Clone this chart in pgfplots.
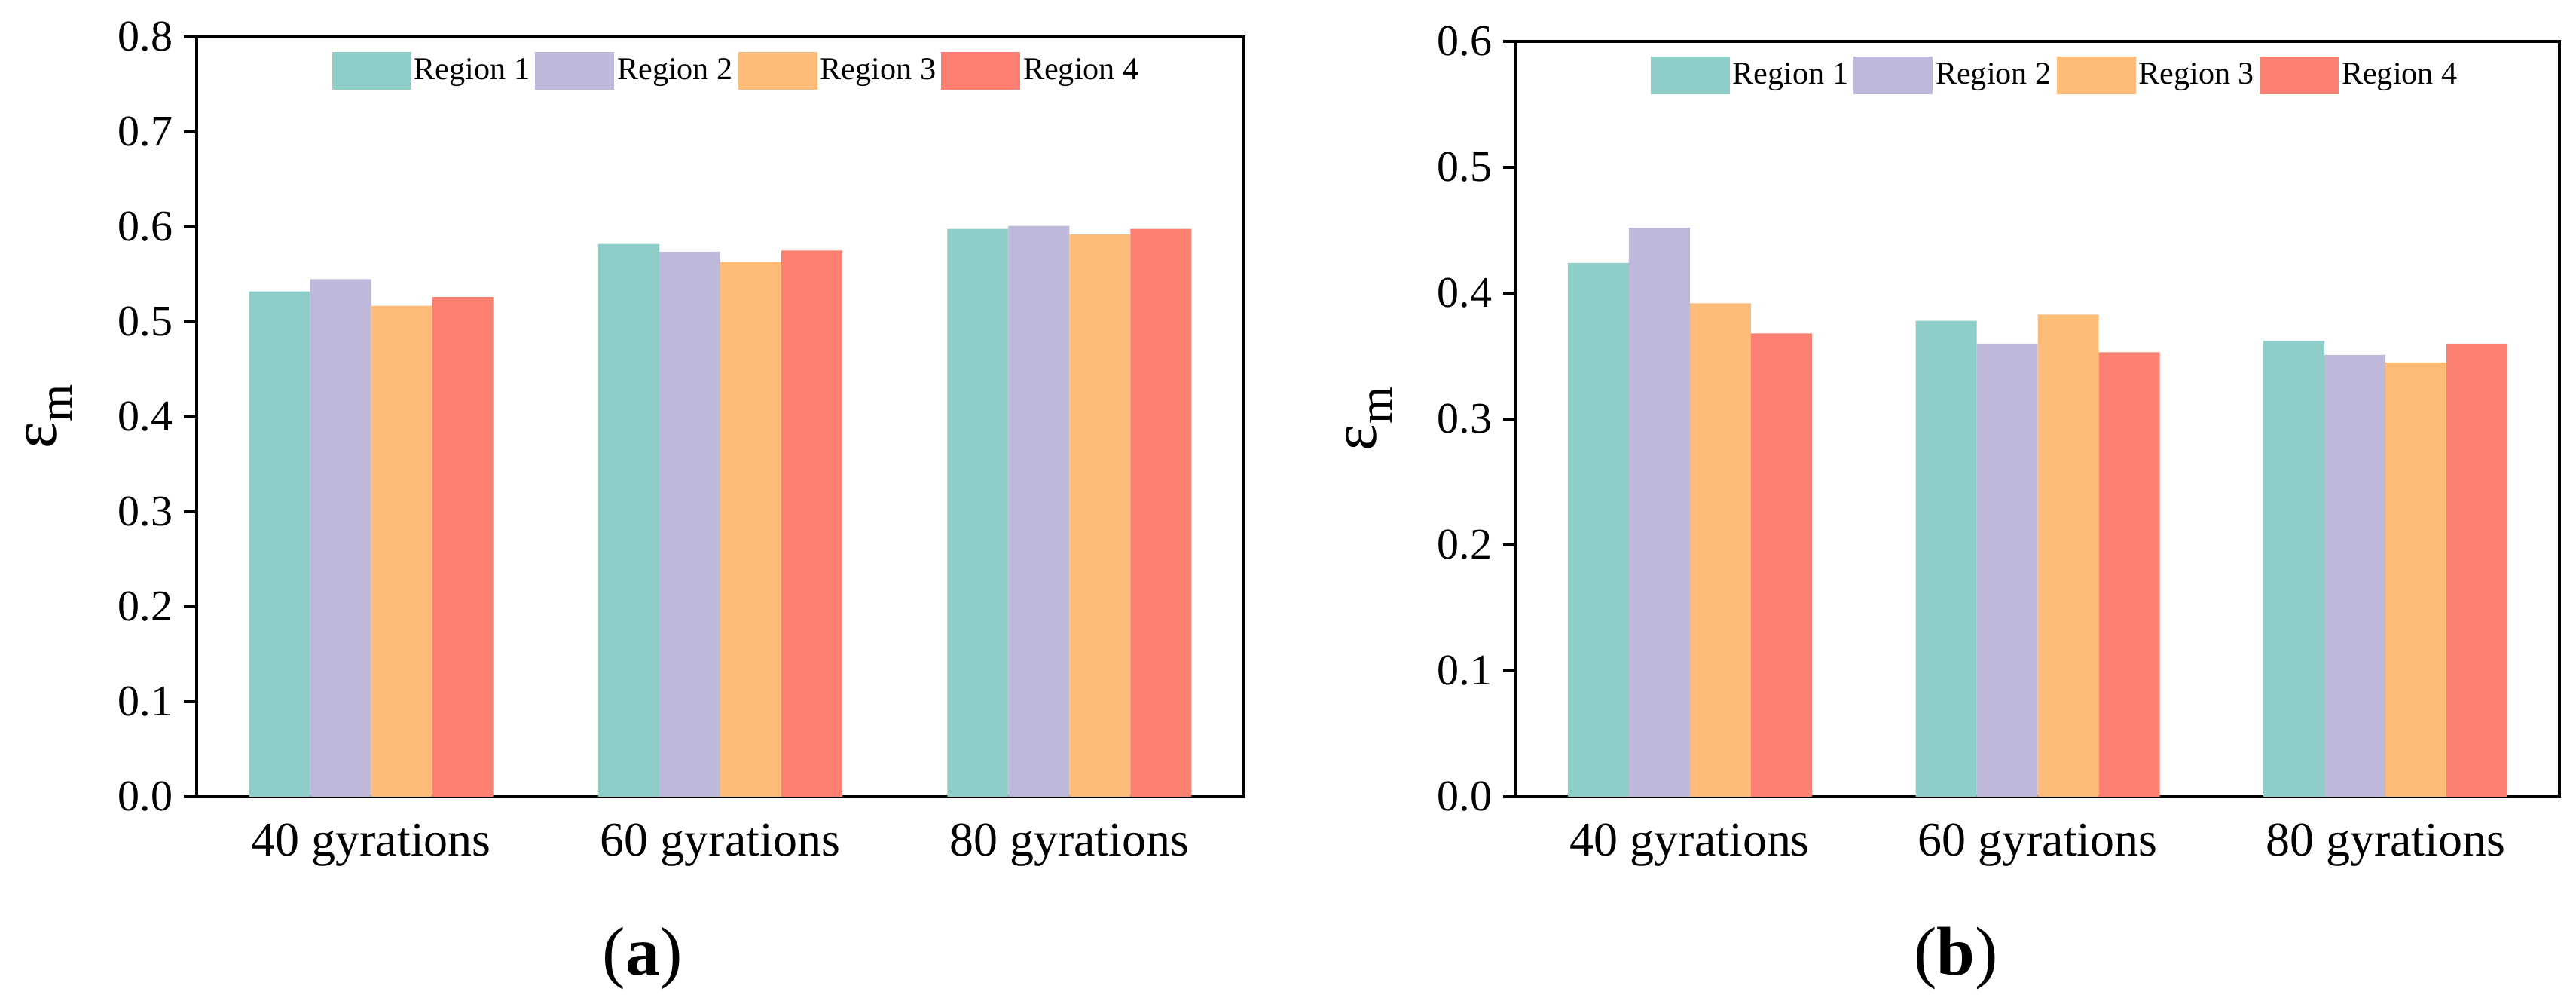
\documentclass[border=0pt]{standalone}
\usepackage{pgfplots}
\pgfplotsset{compat=1.18}
\usepackage{pgfplotstable}
\usepackage{fontspec}
\setmainfont{Liberation Serif}

\definecolor{cA}{HTML}{8FCEC8}
\definecolor{cB}{HTML}{BEB8DB}
\definecolor{cC}{HTML}{FEBC79}
\definecolor{cD}{HTML}{FB8071}

\pgfplotstableread{
x r1 r2 r3 r4
0 0.532 0.545 0.517 0.526
1 0.582 0.574 0.563 0.575
2 0.598 0.601 0.592 0.598
}\dataA

\pgfplotstableread{
x r1 r2 r3 r4
0 0.424 0.452 0.392 0.368
1 0.378 0.360 0.383 0.353
2 0.362 0.351 0.345 0.360
}\dataB

\pgfplotsset{
  mybar/.style={
    scale only axis,
    ybar=0pt, bar width=8.1mm,
    xmin=-0.5, xmax=2.5, ymin=0,
    xtick={0,1,2},
    xticklabels={40 gyrations,60 gyrations,80 gyrations},
    tick align=outside, major tick length=1.7mm,
    xtick style={draw=none},
    ytick pos=left,
    axis line style={line width=1pt, black},
    ytick style={line width=1pt, black},
    yticklabel style={font=\fontsize{16.5}{18}\selectfont, inner sep=1.4mm,
      /pgf/number format/fixed, /pgf/number format/fixed zerofill,
      /pgf/number format/precision=1, /pgf/number format/assume math mode=true},
    xticklabel style={font=\fontsize{18.2}{20}\selectfont, inner sep=1.8mm},
    ylabel={{\fontsize{24}{26}\selectfont ε}\raisebox{-6pt}{\fontsize{18}{20}\selectfont m}},
    ylabel style={at={(axis description cs:-0.141,0.5)}, anchor=center},
    legend columns=4,
    legend image code/.code={\fill[##1] (0mm,-2.5mm) rectangle (10.5mm,2.5mm);},
    legend style={draw=none, fill=none, inner sep=0pt, anchor=west,
      font=\fontsize{12}{14}\selectfont,
      nodes={inner sep=0.4mm},
      /tikz/every even column/.append style={column sep=0.3mm}},
  }
}

\begin{document}
\begin{tikzpicture}
\path[use as bounding box] (0,0) rectangle (341.9mm,133.2mm);

\begin{axis}[mybar, at={(26.1mm,27.5mm)}, anchor=south west,
  width=139mm, height=100.8mm, ymax=0.8,
  ytick={0,0.1,0.2,0.3,0.4,0.5,0.6,0.7,0.8},
  legend style={at={(0.1288,0.9554)}}]
\addplot[fill=cA, draw=none] table[x=x,y=r1]{\dataA};
\addplot[fill=cB, draw=none] table[x=x,y=r2]{\dataA};
\addplot[fill=cC, draw=none] table[x=x,y=r3]{\dataA};
\addplot[fill=cD, draw=none] table[x=x,y=r4]{\dataA};
\legend{Region 1,Region 2,Region 3,Region 4}
\end{axis}

\begin{axis}[mybar, at={(201.2mm,27.5mm)}, anchor=south west,
  width=138.5mm, height=100.2mm, ymax=0.6,
  ytick={0,0.1,0.2,0.3,0.4,0.5,0.6},
  legend style={at={(0.1285,0.955)}}]
\addplot[fill=cA, draw=none] table[x=x,y=r1]{\dataB};
\addplot[fill=cB, draw=none] table[x=x,y=r2]{\dataB};
\addplot[fill=cC, draw=none] table[x=x,y=r3]{\dataB};
\addplot[fill=cD, draw=none] table[x=x,y=r4]{\dataB};
\legend{Region 1,Region 2,Region 3,Region 4}
\end{axis}

\node[inner sep=0pt, font=\fontsize{26}{28}\selectfont] at (85.3mm,6.0mm) {(\textbf{a})};
\node[inner sep=0pt, font=\fontsize{26}{28}\selectfont] at (259.6mm,6.0mm) {(\textbf{b})};
\end{tikzpicture}
\end{document}
